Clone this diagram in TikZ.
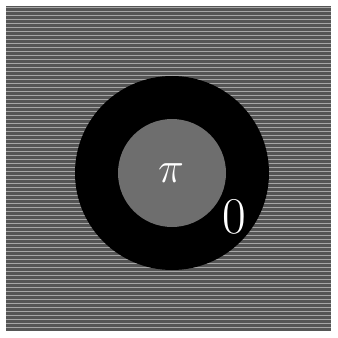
\documentclass[tikz,border=0pt]{standalone}
\usepackage{tikz}
\definecolor{stripegray}{HTML}{555555}
\definecolor{diskgray}{HTML}{6E6E6E}

\begin{document}
\begin{tikzpicture}[
  x=0.03cm, y=-0.03cm,
  stripe/.style={draw=white!65!black, line width=0.45pt},
  label/.style={text=white, inner sep=0pt},
]
\useasboundingbox (0,0) rectangle (337,338);
% striped background
\fill[stripegray] (6,6) rectangle (331,331);
\foreach \k in {0,...,80} {
  \draw[stripe] (6,{7.5+4*\k}) -- (331,{7.5+4*\k});
}
% disks
\fill[black] (172,173) circle (97);
\fill[diskgray] (172,173) circle (54);
\node[label, font=\Huge, scale=1.5] (pi) at (171,173) {$\pi$};
\node[label, font=\fontsize{44}{46}\selectfont] (zero) at (234,217) {0};
\end{tikzpicture}
\end{document}
